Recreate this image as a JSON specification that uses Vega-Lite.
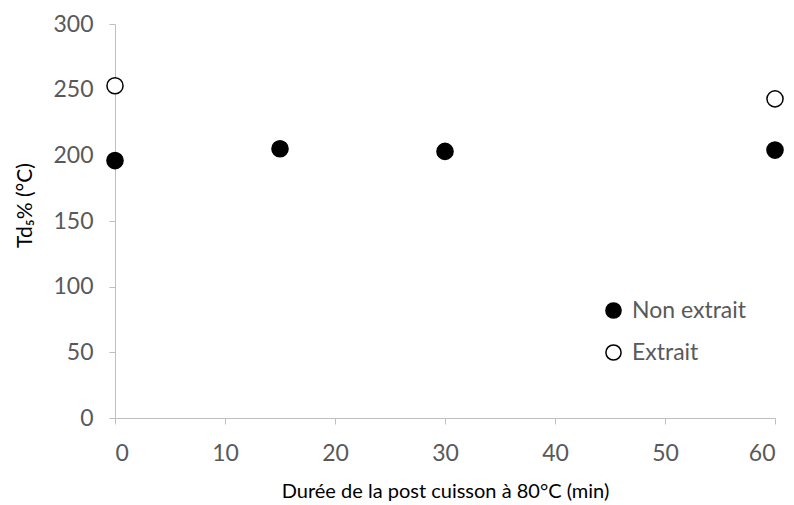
{
  "$schema": "https://vega.github.io/schema/vega-lite/v6.json",
  "width": 660,
  "height": 394,
  "autosize": {"type": "none"},
  "padding": {"left": 115, "top": 24, "right": 19, "bottom": 87},
  "background": "white",
  "config": {
    "view": {"stroke": null},
    "font": "Lato"
  },
  "data": {
    "values": [
      {"duree": 0, "td": 196, "serie": "Non extrait"},
      {"duree": 15, "td": 205, "serie": "Non extrait"},
      {"duree": 30, "td": 203, "serie": "Non extrait"},
      {"duree": 60, "td": 204, "serie": "Non extrait"},
      {"duree": 0, "td": 253, "serie": "Extrait"},
      {"duree": 60, "td": 243, "serie": "Extrait"}
    ]
  },
  "mark": {"type": "point", "shape": "circle", "filled": true, "size": 260, "stroke": "black", "strokeWidth": 1.5, "opacity": 1},
  "encoding": {
    "x": {
      "field": "duree", "type": "quantitative",
      "scale": {"domain": [0, 60], "nice": false, "zero": false},
      "axis": {
        "values": [0, 10, 20, 30, 40, 50, 60],
        "title": "Durée de la post cuisson à 80°C (min)",
        "grid": false,
        "domainColor": "#bfbfbf", "tickColor": "#bfbfbf", "tickSize": 6,
        "labelColor": "#595959", "labelFontSize": 23, "labelPadding": 18,
        "titleColor": "#000000", "titleFontSize": 20, "titleFontWeight": "normal", "titlePadding": 16
      }
    },
    "y": {
      "field": "td", "type": "quantitative",
      "scale": {"domain": [0, 300], "nice": false},
      "axis": {
        "values": [0, 50, 100, 150, 200, 250, 300],
        "title": "Td₅% (°C)",
        "grid": false,
        "domainColor": "#bfbfbf", "tickColor": "#bfbfbf", "tickSize": 6,
        "labelColor": "#595959", "labelFontSize": 23, "labelPadding": 16,
        "titleColor": "#000000", "titleFontSize": 21, "titleFontWeight": "normal",
        "titleX": -80, "titleY": 181, "titleAlign": "center", "titleBaseline": "bottom", "titleAngle": 270
      }
    },
    "fill": {
      "field": "serie", "type": "nominal",
      "scale": {"domain": ["Non extrait", "Extrait"], "range": ["#000000", "#ffffff"]},
      "legend": {
        "title": null, "orient": "none", "legendX": 487, "legendY": 275,
        "symbolType": "circle", "symbolSize": 230, "symbolStrokeColor": "#000000", "symbolStrokeWidth": 1.5,
        "symbolOpacity": 1,
        "labelColor": "#595959", "labelFontSize": 23, "labelOffset": 7, "rowPadding": 18
      }
    }
  }
}
